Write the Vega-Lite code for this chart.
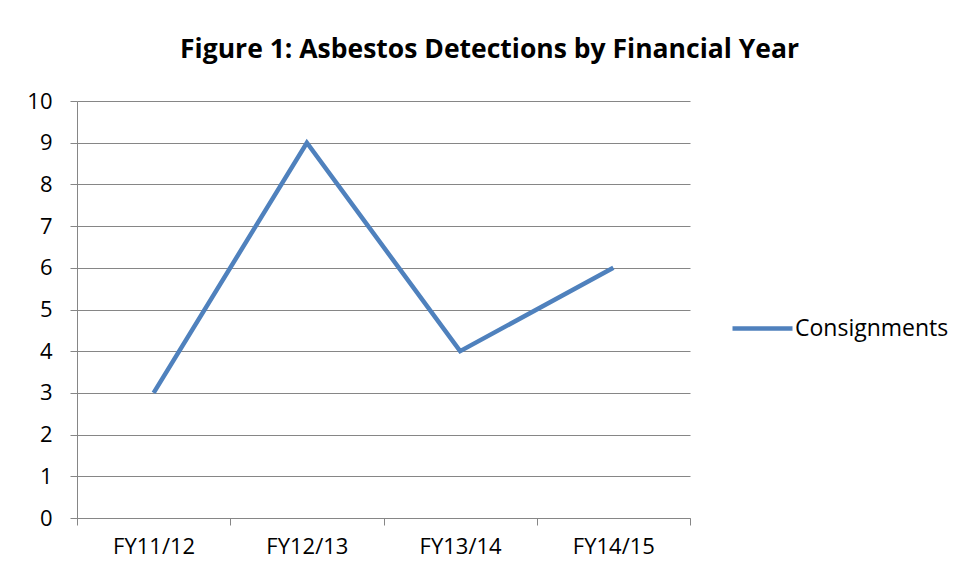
{
  "$schema": "https://vega.github.io/schema/vega-lite/v6.json",
  "width": 613,
  "height": 417,
  "autosize": {"type": "none"},
  "padding": {"left": 77, "top": 101, "right": 266, "bottom": 62},
  "background": "white",
  "title": {
    "text": "Figure 1: Asbestos Detections by Financial Year",
    "font": "Open Sans",
    "fontSize": 26.5,
    "fontWeight": "bold",
    "color": "#000000",
    "anchor": "middle",
    "dx": 106,
    "offset": 27
  },
  "data": {
    "values": [
      {"year": "FY11/12", "series": "Consignments", "value": 3},
      {"year": "FY12/13", "series": "Consignments", "value": 9},
      {"year": "FY13/14", "series": "Consignments", "value": 4},
      {"year": "FY14/15", "series": "Consignments", "value": 6}
    ]
  },
  "mark": {"type": "line", "strokeWidth": 4.5, "strokeJoin": "miter"},
  "encoding": {
    "x": {
      "field": "year",
      "type": "nominal",
      "sort": null,
      "scale": {"type": "band", "paddingInner": 0, "paddingOuter": 0},
      "axis": {
        "title": null,
        "labelAngle": 0,
        "tickBand": "extent",
        "tickSize": 7,
        "tickColor": "#868686",
        "domainColor": "#868686",
        "labelFont": "Open Sans",
        "labelFontSize": 22,
        "labelColor": "#000000",
        "labelPadding": 11,
        "grid": false
      }
    },
    "y": {
      "field": "value",
      "type": "quantitative",
      "scale": {"domain": [0, 10], "nice": false},
      "axis": {
        "title": null,
        "values": [0, 1, 2, 3, 4, 5, 6, 7, 8, 9, 10],
        "tickSize": 7,
        "tickColor": "#868686",
        "domainColor": "#868686",
        "gridColor": "#868686",
        "gridWidth": 1,
        "labelFont": "Open Sans",
        "labelFontSize": 22,
        "labelColor": "#000000",
        "labelPadding": 18
      }
    },
    "color": {
      "field": "series",
      "type": "nominal",
      "scale": {"range": ["#4F81BD"]},
      "legend": {
        "title": null,
        "orient": "none",
        "legendX": 653,
        "legendY": 195,
        "symbolType": "stroke",
        "symbolSize": 3600,
        "symbolStrokeWidth": 4.5,
        "labelFont": "Open Sans",
        "labelFontSize": 23,
        "labelColor": "#000000",
        "labelOffset": 0
      }
    }
  },
  "config": {"view": {"stroke": null}}
}
